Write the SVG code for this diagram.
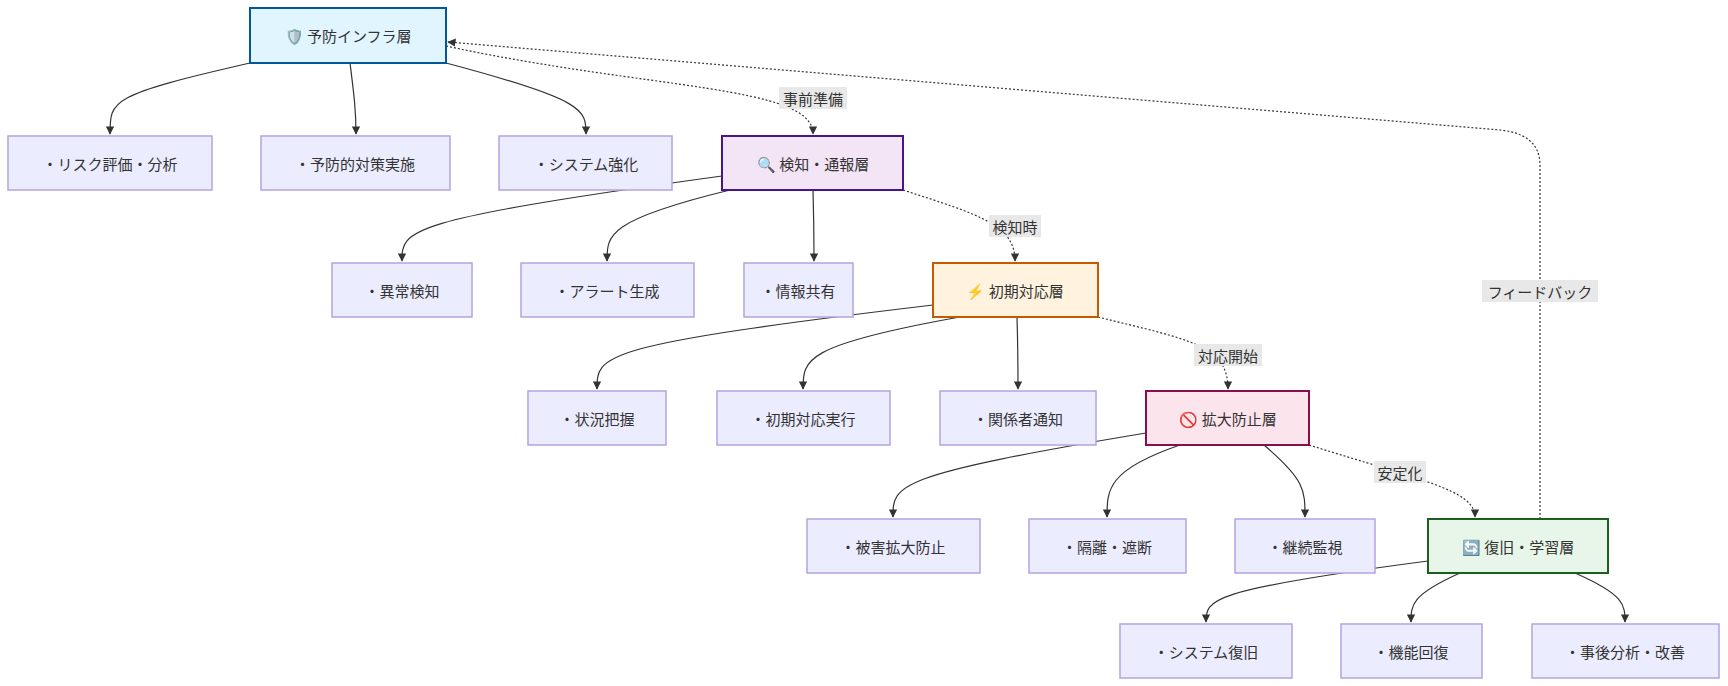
<svg xmlns="http://www.w3.org/2000/svg" width="1728" height="686" viewBox="0 0 1728 686">
<defs>
<marker id="ah" viewBox="0 0 10 10" refX="9" refY="5" markerWidth="7" markerHeight="7" orient="auto-start-reverse"><path d="M0,0 L10,5 L0,10 z" fill="#333"/></marker>
<style>
text{font-family:"Noto Sans CJK JP","Noto Sans",sans-serif;font-size:15px;fill:#333;text-anchor:middle;dominant-baseline:central}
.c rect{fill:#ececff;stroke:#b3a4e0;stroke-width:1.5}
.e{fill:none;stroke:#333;stroke-width:1.2;marker-end:url(#ah)}
.d{fill:none;stroke:#333;stroke-width:1.2;stroke-dasharray:2 2;marker-end:url(#ah)}
.lb rect{fill:#e8e8e8}
</style>
</defs>
<rect width="1728" height="686" fill="#fff"/>
<g id="edges">
<path class="e" d="M250,63 C110,95 110,100 110,134"/>
<path class="e" d="M350,63 C354,95 356,110 356,134"/>
<path class="e" d="M446,63 C586,100 586,110 586,134"/>
<path class="d" d="M446,46 C650,90 813,85 813,134"/>
<path class="e" d="M722,176 C402,220 402,230 402,261"/>
<path class="e" d="M730,190 C607,220 607,235 607,261"/>
<path class="e" d="M813,190 C814,225 814,235 814,261"/>
<path class="d" d="M903,190 C980,215 1015,225 1015,261"/>
<path class="e" d="M933,305 C597,345 597,355 597,389"/>
<path class="e" d="M960,317 C803,345 803,360 803,389"/>
<path class="e" d="M1017,317 C1018,350 1018,360 1018,389"/>
<path class="d" d="M1098,317 C1190,340 1228,345 1228,389"/>
<path class="e" d="M1146,433 C893,475 893,485 893,517"/>
<path class="e" d="M1180,445 C1107,470 1107,490 1107,517"/>
<path class="e" d="M1264,445 C1305,480 1305,490 1305,517"/>
<path class="d" d="M1309,445 C1420,480 1475,490 1475,517"/>
<path class="e" d="M1428,561 C1206,590 1206,600 1206,622"/>
<path class="e" d="M1460,573 C1411,595 1411,605 1411,622"/>
<path class="e" d="M1575,573 C1625,595 1625,605 1625,622"/>
<path class="d" d="M1540,519 L1540,165 C1540,140 1520,132 1500,130 L448,42"/>
<g class="lb">
<rect x="779" y="87" width="68" height="22"/><text x="813" y="98">事前準備</text>
<rect x="989" y="215" width="52" height="22"/><text x="1015" y="226">検知時</text>
<rect x="1194" y="344" width="68" height="22"/><text x="1228" y="355">対応開始</text>
<rect x="1374" y="461" width="52" height="22"/><text x="1400" y="472">安定化</text>
<rect x="1482" y="280" width="116" height="22"/><text x="1540" y="291">フィードバック</text>
</g>
</g>
<g id="n0"><rect x="250" y="8" width="196" height="55" fill="#e1f5fe" stroke="#01579b" stroke-width="2"/><text x="348" y="35">🛡️ 予防インフラ層</text></g>
<g id="n1" class="c"><rect x="8" y="136" width="204" height="54"/><text x="110" y="163">・リスク評価・分析</text></g>
<g id="n2" class="c"><rect x="261" y="136" width="189" height="54"/><text x="355" y="163">・予防的対策実施</text></g>
<g id="n3" class="c"><rect x="499" y="136" width="173" height="54"/><text x="586" y="163">・システム強化</text></g>
<g id="n4"><rect x="722" y="136" width="181" height="54" fill="#f3e5f5" stroke="#4a148c" stroke-width="2"/><text x="813" y="163">🔍 検知・通報層</text></g>
<g id="n5" class="c"><rect x="332" y="263" width="140" height="54"/><text x="402" y="290">・異常検知</text></g>
<g id="n6" class="c"><rect x="521" y="263" width="173" height="54"/><text x="607" y="290">・アラート生成</text></g>
<g id="n7" class="c"><rect x="744" y="263" width="109" height="54"/><text x="798" y="290">・情報共有</text></g>
<g id="n8"><rect x="933" y="263" width="165" height="54" fill="#fff3e0" stroke="#c55a00" stroke-width="2"/><text x="1015" y="290">⚡ 初期対応層</text></g>
<g id="n9" class="c"><rect x="528" y="391" width="138" height="54"/><text x="597" y="418">・状況把握</text></g>
<g id="n10" class="c"><rect x="717" y="391" width="173" height="54"/><text x="803" y="418">・初期対応実行</text></g>
<g id="n11" class="c"><rect x="940" y="391" width="156" height="54"/><text x="1018" y="418">・関係者通知</text></g>
<g id="n12"><rect x="1146" y="391" width="163" height="54" fill="#fce4ec" stroke="#880e4f" stroke-width="2"/><text x="1228" y="418">🚫 拡大防止層</text></g>
<g id="n13" class="c"><rect x="807" y="519" width="173" height="54"/><text x="893" y="546">・被害拡大防止</text></g>
<g id="n14" class="c"><rect x="1029" y="519" width="157" height="54"/><text x="1107" y="546">・隔離・遮断</text></g>
<g id="n15" class="c"><rect x="1235" y="519" width="140" height="54"/><text x="1305" y="546">・継続監視</text></g>
<g id="n16"><rect x="1428" y="519" width="180" height="54" fill="#e8f5e9" stroke="#1b5e20" stroke-width="2"/><text x="1518" y="546">🔄 復旧・学習層</text></g>
<g id="n17" class="c"><rect x="1120" y="624" width="172" height="54"/><text x="1206" y="651">・システム復旧</text></g>
<g id="n18" class="c"><rect x="1341" y="624" width="141" height="54"/><text x="1411" y="651">・機能回復</text></g>
<g id="n19" class="c"><rect x="1532" y="624" width="187" height="54"/><text x="1625" y="651">・事後分析・改善</text></g>
</svg>
